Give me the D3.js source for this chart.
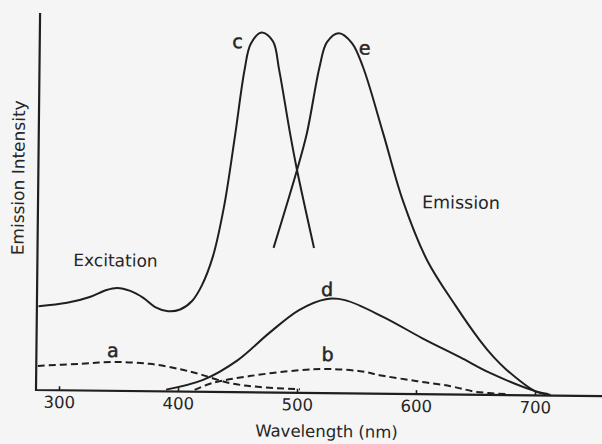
<!DOCTYPE html>
<html>
<head>
<meta charset="utf-8">
<script src="https://cdn.jsdelivr.net/npm/d3@7"></script>
<style>
  html, body { margin: 0; padding: 0; background: #f5f5f5; }
  svg { display: block; }
  text { font-family: "DejaVu Sans", sans-serif; fill: #262626; }
</style>
</head>
<body>
<svg id="chart" width="602" height="444"></svg>
<script>
// Wavelength (nm) tick values
const wavelengthTicks = [300, 400, 500, 600, 700];

// Excitation spectrum (c): [wavelength nm, relative intensity]
const excitationC = [
  [282, 23.3], [306, 24.3], [325, 26.0], [339, 28.0], [348, 28.6], [359, 27.8],
  [370, 25.9], [380, 23.4], [391, 22.3], [401, 22.8], [411, 25.2], [419, 29.5],
  [428, 37.5], [437, 51.5], [445.5, 71.0], [453, 89.5], [458, 96.8], [467, 100],
  [476.6, 97.6], [482, 89.8], [491.8, 72.1], [498, 61.9], [513, 40.3]
];

// Emission spectrum (e)
const emissionE = [
  [479, 40.2], [498, 61.9], [506, 72.2], [516, 90.6], [522, 97.5], [532, 100],
  [543, 97.3], [552.5, 90.7], [570, 72.4], [587, 53.9], [608, 37.3], [632, 24.9],
  [653, 15.2], [665, 10.5], [676, 7.0], [700, 1.2], [713, 0.2]
];

// Emission spectrum (d)
const emissionD = [
  [390, 0.5], [421, 3.3], [450, 8.9], [476, 16.5], [501, 23.0], [523.5, 26.1],
  [539.5, 25.9], [572, 21.3], [604.5, 15.6], [636.6, 10.4], [662, 6.1],
  [700, 1.2], [711, 0.4]
];

// Excitation spectrum (a), dashed
const excitationA = [
  [282, 6.7], [317, 7.4], [345, 8.0], [376, 7.6], [401.5, 6.2], [418, 4.9],
  [443.6, 2.5], [469, 1.5], [502.5, 1.0]
];

// Emission spectrum (b), dashed
const emissionB = [
  [414, 0.5], [429, 2.5], [460, 4.5], [502, 6.3], [527, 6.7], [553, 6.2],
  [572, 5.0], [601, 3.6], [629, 2.3], [651, 0.8], [676, 0.3]
];

const svg = d3.select("#chart");

// the whole drawing sits a little askew, like a scanned page
const g = svg.append("g").attr("transform", "rotate(0.62, 36, 390)");

const x = d3.scaleLinear().domain([300, 700]).range([59, 535]);
const y = d3.scaleLinear().domain([0, 100]).range([390, 30]);

const ink = "#1f1f1f";

// axes frame
const originX = 36, axisRight = 612, axisTop = y(104.7);
g.append("path")
  .attr("d", `M${originX},${axisTop}V${y(0)}H${axisRight}`)
  .attr("fill", "none").attr("stroke", ink).attr("stroke-width", 2.2);

const xAxis = d3.axisBottom(x)
  .tickValues(wavelengthTicks)
  .tickFormat(d3.format("d"))
  .tickSizeInner(-4).tickSizeOuter(0).tickPadding(6);

const xg = g.append("g").attr("transform", `translate(0,${y(0)})`).call(xAxis);
xg.select(".domain").remove();
xg.selectAll(".tick line").attr("stroke", ink).attr("stroke-width", 1.6);
xg.selectAll(".tick text")
  .attr("font-family", "'DejaVu Sans', sans-serif")
  .attr("font-size", 16.5).attr("fill", "#262626");

// spectra
const line = d3.line()
  .x(d => x(d[0])).y(d => y(d[1]))
  .curve(d3.curveCatmullRom.alpha(0.5));

const series = [
  { data: excitationC, dash: null },
  { data: emissionE, dash: null },
  { data: emissionD, dash: null },
  { data: excitationA, dash: "7,4" },
  { data: emissionB, dash: "7,4" }
];

g.selectAll("path.spectrum")
  .data(series)
  .join("path")
  .attr("class", "spectrum")
  .attr("d", d => line(d.data))
  .attr("fill", "none")
  .attr("stroke", ink)
  .attr("stroke-width", 2)
  .attr("stroke-dasharray", d => d.dash);

// curve letters
const letters = [
  { t: "c", at: [467, 100], dx: -24, dy: 16 },
  { t: "e", at: [532, 100], dx: 26, dy: 21 },
  { t: "d", at: [523.5, 26.1], dx: 1, dy: -3 },
  { t: "a", at: [345, 8.0], dx: 0, dy: -5 },
  { t: "b", at: [527, 6.7], dx: -2, dy: -8 }
];
g.selectAll("text.letter")
  .data(letters)
  .join("text")
  .attr("class", "letter")
  .attr("x", d => x(d.at[0]) + d.dx)
  .attr("y", d => y(d.at[1]) + d.dy)
  .attr("text-anchor", "middle")
  .attr("font-size", 19)
  .attr("stroke", "#262626")
  .attr("stroke-width", 0.5)
  .text(d => d.t);

// region labels
g.append("text").attr("x", 72).attr("y", 265.6)
  .attr("font-size", 17).text("Excitation");
g.append("text").attr("x", 420).attr("y", 204)
  .attr("font-size", 17.5).text("Emission");

// axis titles
g.append("text").attr("x", 327).attr("y", 434)
  .attr("text-anchor", "middle").attr("font-size", 16.5).text("Wavelength (nm)");
g.append("text")
  .attr("transform", "translate(22,178) rotate(-90)")
  .attr("text-anchor", "middle").attr("font-size", 17).text("Emission Intensity");
</script>
</body>
</html>
